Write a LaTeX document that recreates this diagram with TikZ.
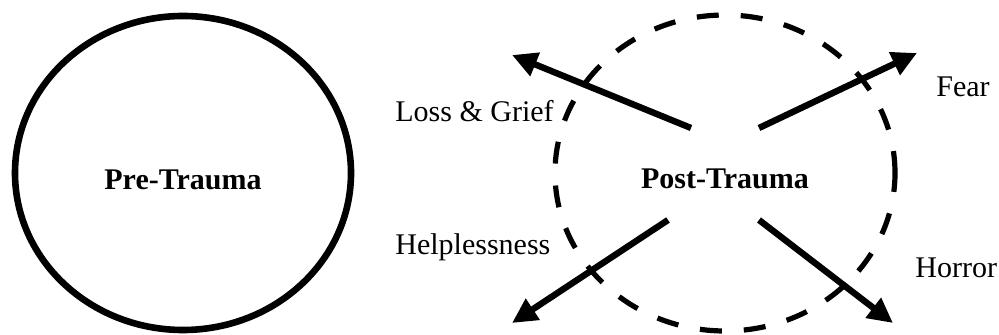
\documentclass[tikz,border=0pt]{standalone}
\usepackage{fontspec}
\setmainfont{Liberation Serif}
\usepackage{tikz}
\usetikzlibrary{positioning,arrows.meta,shapes.geometric}
\tikzset{
  ring/.style={draw, ellipse, line width=3.3pt, inner sep=0pt, minimum width=168pt, minimum height=157pt},
  dring/.style={draw, ellipse, line width=2.6pt, dash pattern=on 11pt off 11pt, inner sep=0pt, minimum width=170pt, minimum height=158pt},
  ttl/.style={font=\fontsize{15}{18}\selectfont\bfseries, inner sep=0pt, anchor=base},
  lbl/.style={font=\fontsize{15}{18}\selectfont, inner sep=0pt, anchor=base west},
  arr/.style={-{Triangle[length=12.5pt, width=12pt]}, line width=3.2pt},
}
\begin{document}
\begin{tikzpicture}[x=0.5pt, y=-0.5pt]
\useasboundingbox (0,0) rectangle (999,335);
\node[ring] (pre) at (183,173) {};
\node[ttl] (pret) at (183,190) {Pre-Trauma};
\node[dring] (post) at (725,173) {};
\node[ttl] (postt) at (725,189) {Post-Trauma};
% arrow ends
\coordinate (s1) at (691,128); \coordinate (e1) at (512,55);
\coordinate (s2) at (759,128); \coordinate (e2) at (917,53);
\coordinate (s3) at (668,220); \coordinate (e3) at (512,323);
\coordinate (s4) at (759,220); \coordinate (e4) at (893,323);
\draw[arr] (s1)--(e1); \draw[arr] (s2)--(e2);
\draw[arr] (s3)--(e3); \draw[arr] (s4)--(e4);
\node[lbl] (loss) at (395,122) {Loss \& Grief};
\node[lbl] (fear) at (936,97) {Fear};
\node[lbl] (help) at (395,255) {Helplessness};
\node[lbl] (horr) at (915,278) {Horror};
\end{tikzpicture}
\end{document}
